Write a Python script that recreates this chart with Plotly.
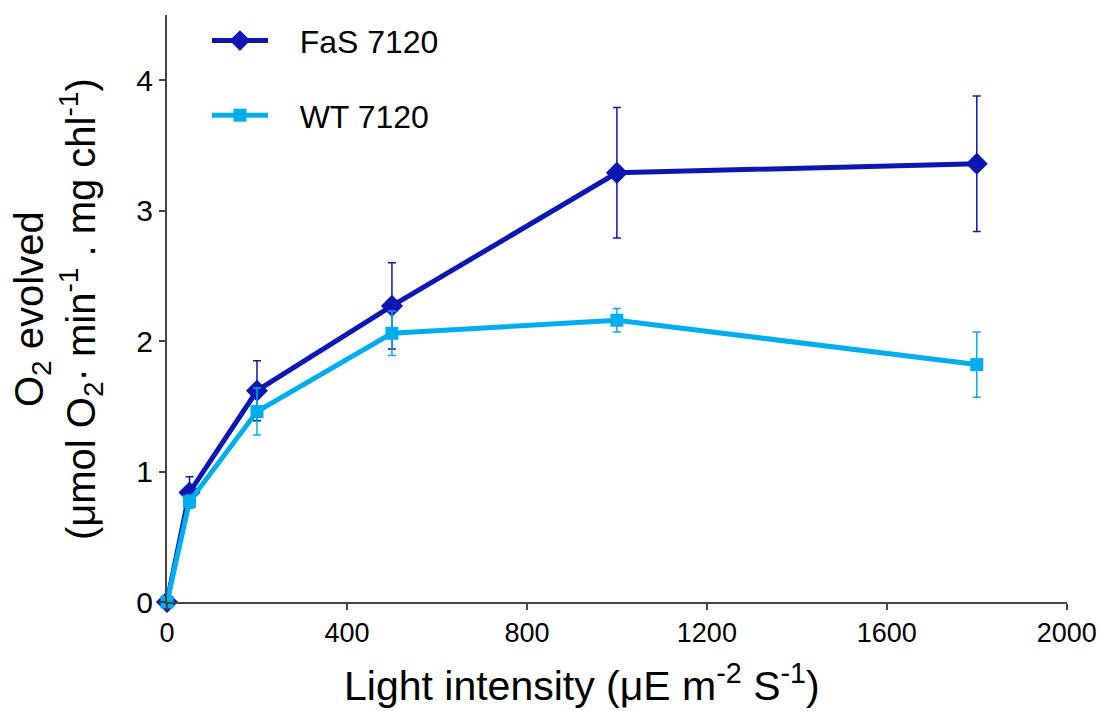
import plotly.graph_objects as go

light = [0, 50, 200, 500, 1000, 1800]
fas_vals = [0.0, 0.84, 1.62, 2.27, 3.29, 3.36]
fas_err = [0.0, 0.12, 0.23, 0.33, 0.50, 0.52]
wt_vals = [0.0, 0.77, 1.46, 2.06, 2.16, 1.82]
wt_err = [0.0, 0.05, 0.18, 0.17, 0.09, 0.25]

x_ticks = [0, 400, 800, 1200, 1600, 2000]
y_ticks = [0, 1, 2, 3, 4]

fas_name = "   FaS 7120"
wt_name = "   WT 7120"
x_title = "Light intensity (μE m<sup>-2</sup> S<sup>-1</sup>)"
y_title = "O<sub>2</sub> evolved<br>(μmol O<sub>2</sub>· min<sup>-1</sup> . mg chl<sup>-1</sup>)"

FONT = "Liberation Sans, Arial, sans-serif"
DARK = "#0a17b2"
LIGHT = "#00aeef"

fig = go.Figure()
fig.add_trace(go.Scatter(
    x=light, y=fas_vals, name=fas_name, legendgroup="a",
    mode="lines+markers",
    line=dict(color=DARK, width=5),
    marker=dict(symbol="diamond", size=17, color=DARK),
    error_y=dict(type="data", array=fas_err, color=DARK, thickness=1.5, width=4),
    cliponaxis=False,
))
fig.add_trace(go.Scatter(
    x=light, y=wt_vals, name=wt_name, legendgroup="b",
    mode="lines+markers",
    line=dict(color=LIGHT, width=5),
    marker=dict(symbol="square", size=13, color=LIGHT),
    error_y=dict(type="data", array=wt_err, color=LIGHT, thickness=1.5, width=4),
    cliponaxis=False,
))

fig.update_layout(
    width=1099, height=711,
    margin=dict(l=167, r=32, t=15, b=109, autoexpand=False),
    paper_bgcolor="white", plot_bgcolor="white",
    font=dict(family=FONT, color="black", size=28),
    legend=dict(
        x=0.0444, y=1.003, xanchor="left", yanchor="top",
        font=dict(size=32, family=FONT),
        traceorder="grouped", tracegroupgap=30,
        itemwidth=56, bgcolor="rgba(0,0,0,0)",
    ),
    xaxis=dict(
        range=[0, 2000.5], tickvals=x_ticks, ticktext=[str(v) for v in x_ticks],
        showline=True, linecolor="#444", linewidth=2, mirror=False,
        ticks="outside", ticklen=6, tickwidth=1.5, tickcolor="#444",
        showgrid=False, zeroline=False, ticklabeloverflow="allow",
        tickfont=dict(size=27, family=FONT),
    ),
    yaxis=dict(
        range=[0, 4.5], tickvals=y_ticks, ticktext=[str(v) for v in y_ticks],
        showline=True, linecolor="#444", linewidth=2, mirror=False,
        ticks="outside", ticklen=6, tickwidth=1.5, tickcolor="#444",
        showgrid=False, zeroline=False,
        tickfont=dict(size=30, family=FONT),
    ),
    annotations=[
        dict(text=x_title, xref="paper", yref="paper", x=0.461, y=-0.138,
             xanchor="center", yanchor="middle", showarrow=False,
             font=dict(size=41, family=FONT, color="black")),
        dict(text=y_title, xref="paper", yref="paper", x=-0.1211, y=0.499,
             xanchor="center", yanchor="middle", showarrow=False, textangle=-90,
             font=dict(size=40, family=FONT, color="black")),
    ],
)

# remove the default 8px page margin so the figure fills the window exactly
fig.write_html(
    "out.html",
    config={"displayModeBar": False},
    post_script="document.body.style.margin='0';document.body.style.overflow='hidden';",
)
